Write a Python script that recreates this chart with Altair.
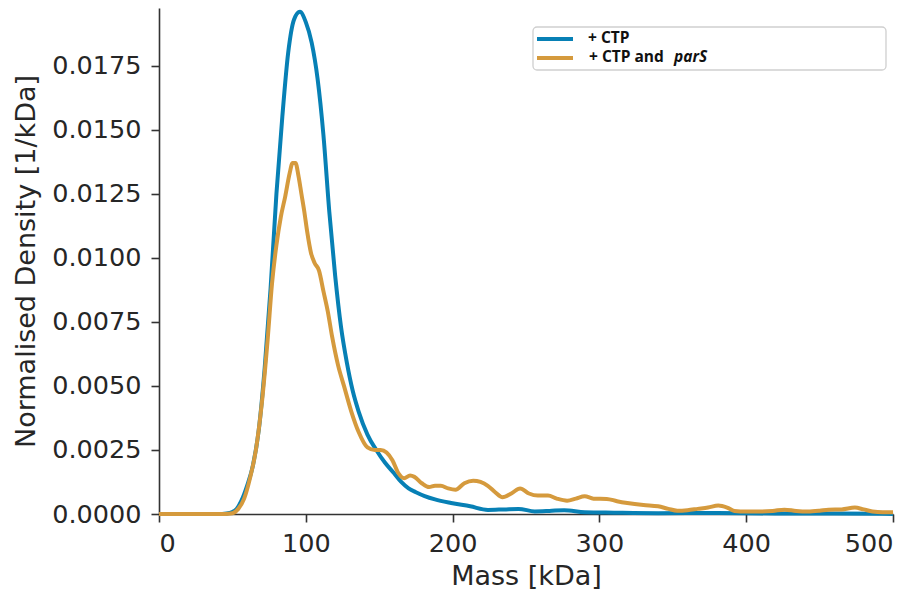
import altair as alt
import pandas as pd

# ---- data ----
series_names = ["+ CTP", "+ CTP and parS"]
series_colors = ["#0780b5", "#d59a3d"]

mass_ctp = [0, 20, 40, 46, 50, 53, 56, 60, 64, 68, 72, 76, 80, 84, 88, 92, 96,
            100, 104, 108, 112, 116, 120, 124, 128, 132, 136, 142, 148, 154, 160,
            165, 170, 175, 181, 188, 199, 212, 224, 235, 245, 256, 266, 276, 290,
            310, 340, 380, 420, 460, 500]
dens_ctp = [0.0, 0.0, 0.0, 0.00002, 0.00008, 0.0002, 0.0005, 0.0011, 0.0019,
            0.0033, 0.0057, 0.0088, 0.0125, 0.0155, 0.0180, 0.0193, 0.0196,
            0.0192, 0.0184, 0.0170, 0.0148, 0.0118, 0.0093, 0.0073, 0.0059,
            0.0048, 0.0040, 0.0031, 0.0025, 0.0020, 0.0016, 0.00125, 0.0010,
            0.00085, 0.0007, 0.00057, 0.00043, 0.0003, 0.00016, 0.00018,
            0.0002, 0.0001, 0.00012, 0.00015, 0.00007, 0.00005, 0.00003,
            0.00004, 0.00002, 0.00002, 0.0]

mass_pars = [0, 20, 45, 50, 54, 58, 62, 66, 70, 74, 77, 80, 83, 86, 89, 91, 93,
             95, 97, 99, 101, 103.5, 106, 109, 112, 115, 118, 122, 126, 131, 136,
             142, 147, 151, 155, 159, 163, 167, 171, 174, 179, 184, 188, 192, 197,
             202, 208, 214, 219, 224, 229, 234, 240, 246, 252, 258, 265, 271, 278,
             284, 290, 296, 305, 312, 319, 330, 340, 347, 353, 360, 367, 374, 381,
             387, 392, 400, 410, 418, 426, 434, 442, 450, 456, 465, 474, 480, 486,
             493, 500]
dens_pars = [0.0, 0.0, 0.0, 0.00003, 0.0002, 0.0006, 0.0014, 0.0025, 0.0043,
             0.0068, 0.0090, 0.0105, 0.0116, 0.0124, 0.0133, 0.0137, 0.0137,
             0.0132, 0.0125, 0.0118, 0.0110, 0.0102, 0.0098, 0.0095, 0.0087,
             0.0079, 0.0069, 0.0058, 0.0050, 0.0040, 0.0032, 0.0026, 0.0025,
             0.0025, 0.0024, 0.0021, 0.0016, 0.0014, 0.0015, 0.00145, 0.0012,
             0.00105, 0.0011, 0.0011, 0.0010, 0.00095, 0.0012, 0.0013, 0.00125,
             0.0011, 0.00085, 0.00065, 0.0008, 0.0010, 0.0008, 0.00072, 0.00072,
             0.0006, 0.00052, 0.0006, 0.00069, 0.0006, 0.00059, 0.0005, 0.00043,
             0.00035, 0.0003, 0.0002, 0.00013, 0.00015, 0.0002, 0.00025, 0.00033,
             0.00025, 0.00012, 0.0001, 0.0001, 0.00012, 0.00017, 0.00012, 0.0001,
             0.00013, 0.00017, 0.00018, 0.00025, 0.00018, 0.0001, 0.00007, 0.00007]

x_ticks = [0, 100, 200, 300, 400, 500]
y_ticks = [0.0, 0.0025, 0.005, 0.0075, 0.01, 0.0125, 0.015, 0.0175]

df = pd.concat([
    pd.DataFrame({"mass": mass_ctp, "density": dens_ctp, "series": series_names[0]}),
    pd.DataFrame({"mass": mass_pars, "density": dens_pars, "series": series_names[1]}),
], ignore_index=True)

lines = alt.Chart(df).mark_line(strokeWidth=4, interpolate="monotone").encode(
    x=alt.X("mass:Q",
            scale=alt.Scale(domain=[0, 500], nice=False, zero=False),
            axis=alt.Axis(title="Mass [kDa]", values=x_ticks, format="d")),
    y=alt.Y("density:Q",
            scale=alt.Scale(domain=[0, 0.01975], nice=False),
            axis=alt.Axis(title="Normalised Density [1/kDa]", values=y_ticks, format=".4f")),
    color=alt.Color("series:N",
                    scale=alt.Scale(domain=series_names, range=series_colors),
                    legend=None),
)

# ---- hand-drawn legend box (decoration, positioned in plot pixels) ----
one = alt.Data(values=[{"k": 1}])
legend_box = alt.Chart(one).mark_rect(
    fill="white", stroke="#cfcfcf", strokeWidth=1.3, cornerRadius=4
).encode(x=alt.value(374), x2=alt.value(727), y=alt.value(19), y2=alt.value(62))

legend_sw1 = alt.Chart(one).mark_rule(strokeWidth=4, color=series_colors[0]).encode(
    x=alt.value(378), x2=alt.value(414), y=alt.value(31))
legend_sw2 = alt.Chart(one).mark_rule(strokeWidth=4, color=series_colors[1]).encode(
    x=alt.value(378), x2=alt.value(414), y=alt.value(50))

txt_kw = dict(baseline="middle", font="Open Sans", fontWeight="bold",
              fontSize=15.5, color="#111111", align="left")
legend_t1 = alt.Chart(one).mark_text(text="+ CTP", **txt_kw).encode(
    x=alt.value(429), y=alt.value(30))
legend_t2 = alt.Chart(one).mark_text(text="+ CTP and", **txt_kw).encode(
    x=alt.value(430), y=alt.value(49))
legend_t3 = alt.Chart(one).mark_text(text="parS", fontStyle="italic", **txt_kw).encode(
    x=alt.value(515), y=alt.value(49))

chart = alt.layer(
    lines, legend_box, legend_sw1, legend_sw2, legend_t1, legend_t2, legend_t3
).properties(
    width=734, height=506,
    padding={"left": 4, "top": -5, "right": 5, "bottom": 5},
).configure_view(
    stroke=None
).configure_axis(
    grid=False,
    domainColor="#333333", domainWidth=1.6,
    tickColor="#333333", tickWidth=1.6, tickSize=8,
    labelFont="DejaVu Sans", labelFontSize=25.5, labelColor="#262626",
    titleFont="DejaVu Sans", titleFontSize=27, titleColor="#262626",
    titleFontWeight="normal",
).configure_axisY(titlePadding=11, labelPadding=10
).configure_axisX(titlePadding=7, labelPadding=9)

chart.save("out.html", embed_options={"renderer": "svg", "actions": False})
